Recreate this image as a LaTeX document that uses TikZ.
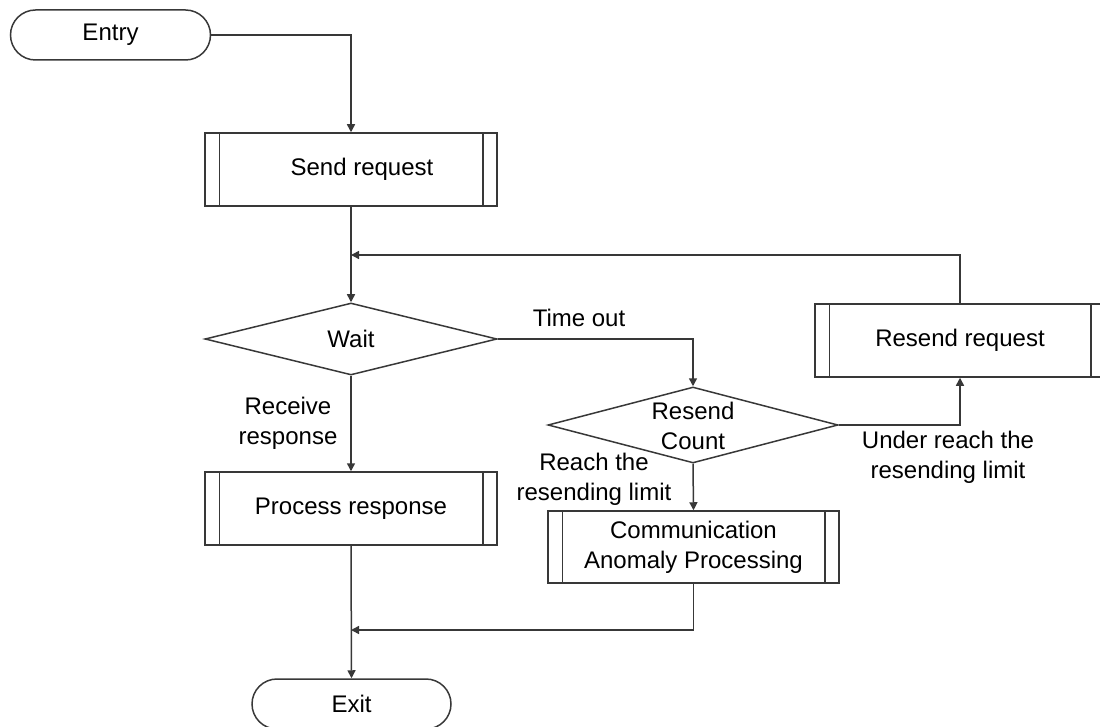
\documentclass[tikz,border=0pt]{standalone}
\usepackage{fontspec}
\setmainfont{Liberation Sans}
\usetikzlibrary{shapes.geometric,arrows.meta}
\begin{document}
\begin{tikzpicture}[x=1pt,y=-1pt,line width=1.5pt,
  every node/.style={font=\fontsize{24}{30}\selectfont},
  ln/.style={draw=black!78},
  arr/.style={ln,-{Triangle[length=8pt,width=8pt]}},
  term/.style={draw=black!78,rounded corners=25pt,minimum width=200pt,minimum height=50pt,inner sep=0pt},
  proc/.style={draw=black!78,minimum width=292pt,minimum height=73pt,inner sep=0pt},
  dec/.style={draw=black!78,diamond,minimum width=292pt,minimum height=72pt,inner sep=0pt,aspect=4},
  lbl/.style={inner sep=0pt,align=center}]
\useasboundingbox (0,0) rectangle (1100,727);
\clip (0,0) rectangle (1100,727);
% nodes
\node[term] (entry) at (110.5,35) {Entry};
\node[proc] (send) at (351,169.5) {\hspace*{22pt}Send request};
\node[dec] (wait) at (351,339) {Wait};
\node[dec,minimum width=290pt,minimum height=76pt] (rc) at (693,425) {};
\node[lbl] (rct) at ([yshift=-1pt]rc.center) {Resend\\Count};
\node[proc,minimum width=290pt] (resend) at (960,340.5) {Resend request};
\node[proc] (process) at (351,508.5) {Process response};
\node[proc,minimum width=291pt,minimum height=72pt] (comm) at (693.5,547) {};
\node[lbl] (commt) at (comm.center) {Communication\\Anomaly Processing};
\node[term,minimum width=199pt] (exit) at (351.5,704) {Exit};
% inner bars of process boxes
\foreach \n in {send,process,comm,resend}
  \draw[ln] ([xshift=15pt]\n.north west) -- ([xshift=15pt]\n.south west)
            ([xshift=-15pt]\n.north east) -- ([xshift=-15pt]\n.south east);
% connectors
\coordinate (j1) at (351,255);
\coordinate (j2) at (351,630);
\draw[arr] (entry.east) -| (send.north);
\draw[arr] (send.south) -- (wait.north);
\draw[arr] (resend.north) |- (j1);
\draw[arr] (wait.east) -| (rc.north);
\draw[arr] (rc.east) -| (resend.south);
\draw[arr] (wait.south) -- (process.north);
\draw[arr] (rc.south) -- (comm.north);
\draw[arr] (comm.south) |- (j2);
\draw[arr] (process.south) -- (exit.north);
% labels
\node[lbl] (tol) at (579,318) {Time out};
\node[lbl] (rrl) at (288,423) {Receive\\response};
\node[lbl] (rl) at (594,479) {Reach the\\resending limit};
\node[lbl] (url) at (948,457) {Under reach the\\resending limit};
\end{tikzpicture}
\end{document}
